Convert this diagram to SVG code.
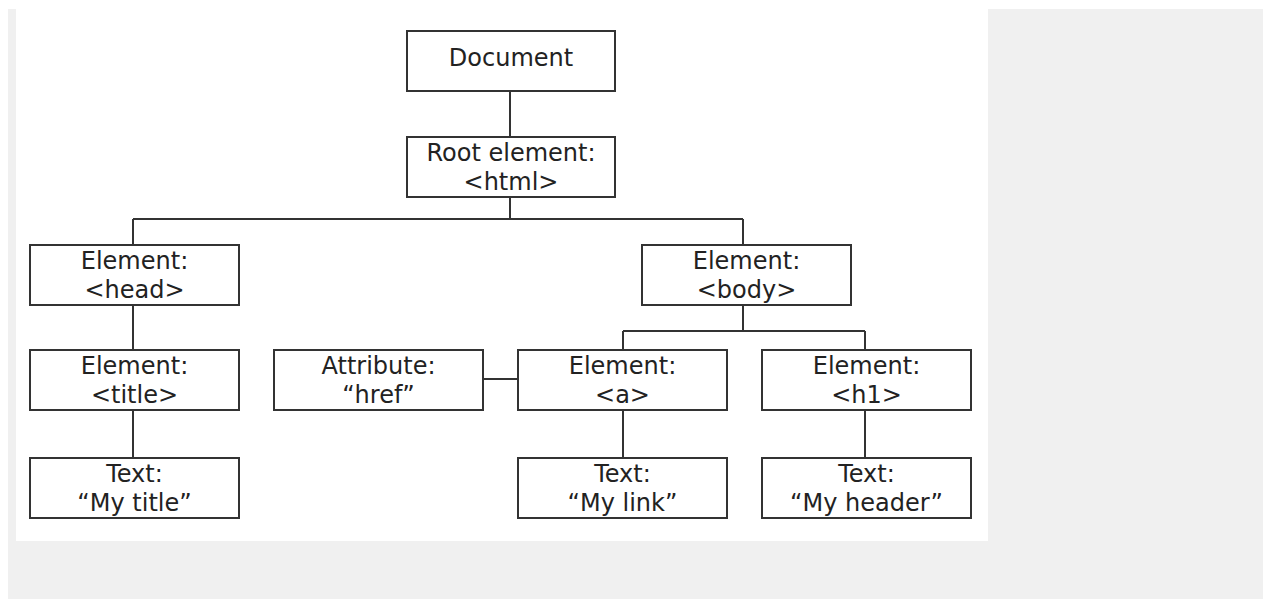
<svg xmlns="http://www.w3.org/2000/svg" width="1263" height="599" viewBox="0 0 1263 599">
<style>
.box{fill:#ffffff;stroke:#333333;stroke-width:2}
.ln{fill:none;stroke:#333333;stroke-width:2}
text{font-family:"DejaVu Sans","Liberation Sans",sans-serif;font-size:24px;fill:#222222;text-anchor:middle}
</style>
<rect x="0" y="0" width="1263" height="599" fill="#ffffff"/>
<rect x="8" y="9" width="1255" height="590" fill="#f0f0f0"/>
<rect x="16" y="9" width="972" height="532" fill="#ffffff"/>
<g id="connectors" class="ln">
<path d="M510 91V137"/>
<path d="M510 197V219M133 219H743M133 219V245M743 219V245"/>
<path d="M133 305V350"/>
<path d="M133 410V458"/>
<path d="M743 305V331M623 331H865M623 331V350M865 331V350"/>
<path d="M483 379H518"/>
<path d="M623 410V458"/>
<path d="M865 410V458"/>
</g>
<g id="document"><rect class="box" x="407" y="31" width="208" height="60"/><text x="511" y="66">Document</text></g>
<g id="root"><rect class="box" x="407" y="137" width="208" height="60"/><text x="511" y="161">Root element:</text><text x="511" y="190">&lt;html&gt;</text></g>
<g id="head"><rect class="box" x="30" y="245" width="209" height="60"/><text x="134.5" y="269">Element:</text><text x="134.5" y="298">&lt;head&gt;</text></g>
<g id="body"><rect class="box" x="642" y="245" width="209" height="60"/><text x="746.5" y="269">Element:</text><text x="746.5" y="298">&lt;body&gt;</text></g>
<g id="title"><rect class="box" x="30" y="350" width="209" height="60"/><text x="134.5" y="374">Element:</text><text x="134.5" y="403">&lt;title&gt;</text></g>
<g id="attribute"><rect class="box" x="274" y="350" width="209" height="60"/><text x="378.5" y="374">Attribute:</text><text x="378.5" y="403">“href”</text></g>
<g id="a"><rect class="box" x="518" y="350" width="209" height="60"/><text x="622.5" y="374">Element:</text><text x="622.5" y="403">&lt;a&gt;</text></g>
<g id="h1"><rect class="box" x="762" y="350" width="209" height="60"/><text x="866.5" y="374">Element:</text><text x="866.5" y="403">&lt;h1&gt;</text></g>
<g id="text-title"><rect class="box" x="30" y="458" width="209" height="60"/><text x="134.5" y="482">Text:</text><text x="134.5" y="511">“My title”</text></g>
<g id="text-link"><rect class="box" x="518" y="458" width="209" height="60"/><text x="622.5" y="482">Text:</text><text x="622.5" y="511">“My link”</text></g>
<g id="text-header"><rect class="box" x="762" y="458" width="209" height="60"/><text x="866.5" y="482">Text:</text><text x="866.5" y="511">“My header”</text></g>
</svg>
